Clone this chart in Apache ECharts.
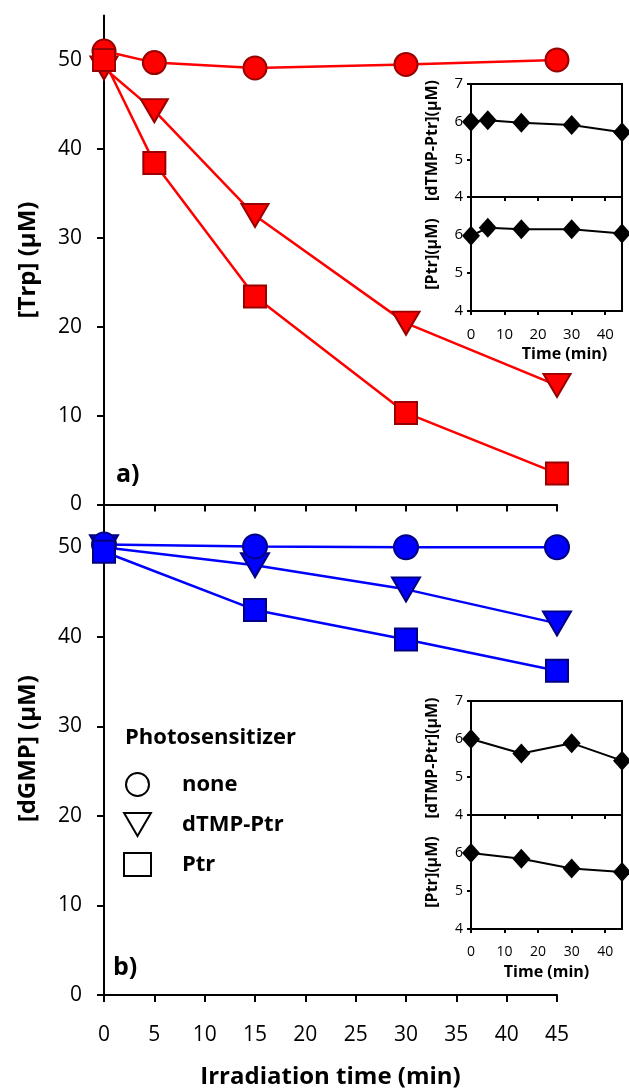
<!DOCTYPE html>
<html>
<head>
<meta charset="utf-8">
<title>Trp / dGMP photosensitized degradation</title>
<script src="https://cdn.jsdelivr.net/npm/echarts@6.0.0/dist/echarts.min.js"></script>
<style>
  html, body { margin: 0; padding: 0; background: #fff; }
  #chart { width: 629px; height: 1088px; }
</style>
</head>
<body>
<div id="chart"></div>
<script>
// irradiation times (min)
const timeA = [0, 5, 15, 30, 45];
const timeB = [0, 15, 30, 45];

// panel a) [Trp] (uM)
const trpNone = [51.0, 49.7, 49.1, 49.5, 50.0];
const trpDtmpPtr = [49.1, 44.3, 32.5, 20.4, 13.4];
const trpPtr = [50.0, 38.4, 23.4, 10.3, 3.5];

// panel b) [dGMP] (uM)
const dgmpNone = [50.3, 50.1, 50.0, 50.0];
const dgmpDtmpPtr = [50.0, 48.0, 45.3, 41.5];
const dgmpPtr = [49.5, 43.0, 39.7, 36.2];

// insets: photosensitizer concentration (uM)
const insetADtmpPtr = [6.0, 6.04, 5.97, 5.91, 5.72];
const insetAPtr = [5.98, 6.19, 6.15, 6.15, 6.04];
const insetBDtmpPtr = [6.0, 5.62, 5.89, 5.43];
const insetBPtr = [6.0, 5.85, 5.59, 5.5];

// tick labels
const mainYTicks = [0, 10, 20, 30, 40, 50];
const mainXTicks = [0, 5, 10, 15, 20, 25, 30, 35, 40, 45];
const insetXTicks = [0, 10, 20, 30, 40];
const insetYTicks = [4, 5, 6, 7];
const insetYTicksLow = [4, 5, 6];

const FONT = "'Open Sans', 'DejaVu Sans', sans-serif";
const TRI_DOWN = 'path://M0,0L28,0L14,24Z';

const pair = (xs, ys) => xs.map((x, i) => [x, ys[i]]);

const chart = echarts.init(document.getElementById('chart'), null, { renderer: 'canvas' });

function mainX(grid, showLabels) {
  return {
    gridIndex: grid, type: 'value', min: 0, max: 45, interval: 5,
    axisLine: { show: true, onZero: false, lineStyle: { color: '#000', width: 2 } },
    axisTick: { show: true, length: 7, customValues: mainXTicks, lineStyle: { color: '#000', width: 2 } },
    axisLabel: { show: showLabels, customValues: mainXTicks, fontSize: 21, color: '#000', margin: 30, fontFamily: FONT },
    splitLine: { show: false },
    name: showLabels ? 'Irradiation time (min)' : '',
    nameLocation: 'middle', nameGap: 70,
    nameTextStyle: { fontSize: 24, fontWeight: 'bold', color: '#000', fontFamily: FONT }
  };
}

function mainY(grid, name) {
  return {
    gridIndex: grid, type: 'value', min: 0, max: 55,
    axisLine: { show: true, onZero: false, lineStyle: { color: '#000', width: 2 } },
    axisTick: { show: true, length: 7, customValues: mainYTicks, lineStyle: { color: '#000', width: 2 } },
    axisLabel: { customValues: mainYTicks, fontSize: 21, color: '#000', margin: 22, fontFamily: FONT },
    splitLine: { show: false },
    name: name, nameLocation: 'middle', nameGap: 64,
    nameTextStyle: { fontSize: 24, fontWeight: 'bold', color: '#000', fontFamily: FONT }
  };
}

function insetX(grid, showLabels, fs, namePad) {
  return {
    gridIndex: grid, type: 'value', min: 0, max: 45,
    axisLine: { show: true, onZero: false, lineStyle: { color: '#000', width: 2 } },
    axisTick: { show: true, length: 4, customValues: insetXTicks, lineStyle: { color: '#000', width: 2 } },
    axisLabel: { show: showLabels, customValues: insetXTicks, fontSize: fs, color: '#000', margin: 16, fontFamily: FONT },
    splitLine: { show: false },
    name: showLabels ? 'Time (min)' : '',
    nameLocation: 'middle', nameGap: 35,
    nameTextStyle: { fontSize: 16, fontWeight: 'bold', color: '#000', fontFamily: FONT, padding: namePad }
  };
}

function insetY(grid, name, labels, fs) {
  return {
    gridIndex: grid, type: 'value', min: 4, max: 7,
    axisLine: { show: true, onZero: false, lineStyle: { color: '#000', width: 2 } },
    axisTick: { show: true, length: 4, customValues: insetYTicks, lineStyle: { color: '#000', width: 2 } },
    axisLabel: { customValues: labels, fontSize: fs, color: '#000', margin: 8, fontFamily: FONT },
    splitLine: { show: false },
    name: name, nameLocation: 'middle', nameGap: 31,
    nameTextStyle: { fontSize: 16, fontWeight: 'bold', color: '#000', fontFamily: FONT }
  };
}

function mainSeries(name, grid, data, symbol, size, color, border, z) {
  return {
    name: name, type: 'line', xAxisIndex: grid, yAxisIndex: grid, z: z,
    data: data, symbol: symbol, symbolSize: size, showAllSymbol: true, clip: false,
    lineStyle: { color: color, width: 2.5 },
    itemStyle: { color: color, borderColor: border, borderWidth: 2 },
    emphasis: { disabled: true }
  };
}

function insetSeries(grid, data) {
  return {
    type: 'line', xAxisIndex: grid, yAxisIndex: grid,
    data: data, symbol: 'diamond', symbolSize: [18, 20], clip: false,
    lineStyle: { color: '#000', width: 2 },
    itemStyle: { color: '#000' },
    emphasis: { disabled: true }
  };
}

const insetGrid = (top, height) => ({
  left: 471, top: top, width: 151, height: height,
  show: true, borderColor: '#000', borderWidth: 2, backgroundColor: 'transparent',
  containLabel: false, outerBoundsMode: 'none'
});

const legendIcon = { color: 'rgba(0,0,0,0)', borderColor: '#000', borderWidth: 2 };

const option = {
  animation: false,
  backgroundColor: '#fff',
  textStyle: { fontFamily: FONT },
  grid: [
    { left: 104, top: 15.5, width: 453, height: 489, containLabel: false, outerBoundsMode: 'none' },
    { left: 104, top: 502.5, width: 453, height: 492.5, containLabel: false, outerBoundsMode: 'none' },
    insetGrid(84, 113),
    insetGrid(197, 114),
    insetGrid(701, 114),
    insetGrid(815, 114)
  ],
  xAxis: [
    mainX(0, false),
    mainX(1, true),
    insetX(2, false, 15),
    insetX(3, true, 15, [0, 0, 0, 36]),
    insetX(4, false, 14),
    insetX(5, true, 14, 0)
  ],
  yAxis: [
    mainY(0, '[Trp] (\u03bcM)'),
    mainY(1, '[dGMP] (\u03bcM)'),
    insetY(2, '[dTMP-Ptr](\u03bcM)', insetYTicks, 15),
    insetY(3, '[Ptr](\u03bcM)', insetYTicksLow, 15),
    insetY(4, '[dTMP-Ptr](\u03bcM)', insetYTicks, 14),
    insetY(5, '[Ptr](\u03bcM)', insetYTicksLow, 14)
  ],
  legend: {
    orient: 'vertical', left: 123, top: 772, padding: 0,
    itemWidth: 27, itemHeight: 23, itemGap: 15,
    selectedMode: false,
    textStyle: { fontSize: 22, fontWeight: 'bold', color: '#000', fontFamily: FONT, padding: [0, 0, 0, 26] },
    data: [
      { name: 'none', icon: 'circle', itemStyle: legendIcon },
      { name: 'dTMP-Ptr', icon: TRI_DOWN, itemStyle: legendIcon },
      { name: 'Ptr', icon: 'rect', itemStyle: legendIcon }
    ]
  },
  graphic: [
    { type: 'text', left: 116, top: 462, style: { text: 'a)', font: 'bold 25px ' + FONT, fill: '#000' } },
    { type: 'text', left: 113, top: 955, style: { text: 'b)', font: 'bold 25px ' + FONT, fill: '#000' } },
    { type: 'text', left: 125, top: 727, style: { text: 'Photosensitizer', font: 'bold 22px ' + FONT, fill: '#000' } }
  ],
  series: [
    mainSeries('none', 0, pair(timeA, trpNone), 'circle', 23, '#ff0000', '#990000', 2),
    mainSeries('dTMP-Ptr', 0, pair(timeA, trpDtmpPtr), TRI_DOWN, [27, 23], '#ff0000', '#990000', 2),
    mainSeries('Ptr', 0, pair(timeA, trpPtr), 'rect', 22, '#ff0000', '#990000', 2),
    mainSeries('none', 1, pair(timeB, dgmpNone), 'circle', 24, '#0000ff', '#000080', 3),
    mainSeries('dTMP-Ptr', 1, pair(timeB, dgmpDtmpPtr), TRI_DOWN, [28, 24], '#0000ff', '#000080', 2),
    mainSeries('Ptr', 1, pair(timeB, dgmpPtr), 'rect', 22, '#0000ff', '#000080', 4),
    insetSeries(2, pair(timeA, insetADtmpPtr)),
    insetSeries(3, pair(timeA, insetAPtr)),
    insetSeries(4, pair(timeB, insetBDtmpPtr)),
    insetSeries(5, pair(timeB, insetBPtr))
  ]
};

chart.setOption(option);
</script>
</body>
</html>
